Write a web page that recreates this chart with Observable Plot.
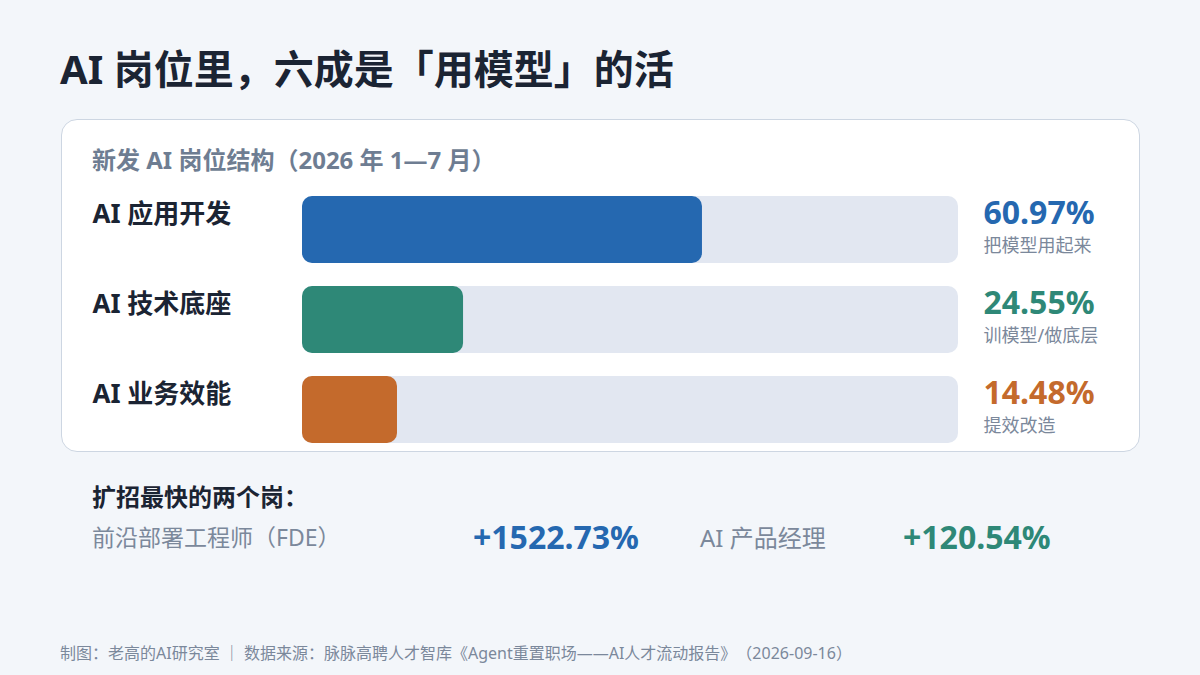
<!DOCTYPE html>
<html>
<head>
<meta charset="utf-8">
<script src="https://cdn.jsdelivr.net/npm/d3@7"></script>
<script src="https://cdn.jsdelivr.net/npm/@observablehq/plot@0.6"></script>
<style>
  html, body { margin: 0; padding: 0; }
  body { width: 1200px; height: 675px; background: #f3f6fa; position: relative; overflow: hidden;
         font-family: "Noto Sans", "Noto Sans CJK SC", sans-serif; text-spacing-trim: space-all; }
  .abs { position: absolute; white-space: nowrap; line-height: 1; }
  #card { position: absolute; left: 61px; top: 119px; width: 1079px; height: 333px; background: #ffffff;
          border: 1.5px solid #cdd6e2; border-radius: 16px; box-sizing: border-box; }
  #chart { position: absolute; left: 0; top: 0; }
</style>
</head>
<body>
<div id="card"></div>
<div id="chart"></div>
<script>
// ---- data ----
const categories = ["AI 应用开发", "AI 技术底座", "AI 业务效能"];
const shares = [60.97, 24.55, 14.48];
const notes = ["把模型用起来", "训模型/做底层", "提效改造"];
const colors = ["#2568b0", "#2e8877", "#c46a2c"];

const fastRoles = ["前沿部署工程师（FDE）", "AI 产品经理"];
const fastGrowth = [1522.73, 120.54];
const fastColors = ["#2568b0", "#2e8877"];

const titleText = "AI 岗位里，六成是「用模型」的活";
const subtitleText = "新发 AI 岗位结构（2026 年 1—7 月）";
const fastHeading = "扩招最快的两个岗：";
const footerText = "制图：老高的AI研究室 ｜ 数据来源：脉脉高聘人才智库《Agent重置职场——AI人才流动报告》（2026-09-16）";

const rows = categories.map((c, i) => ({cat: c, share: shares[i], note: notes[i], full: 100}));

// ---- HTML text ----
function addText(txt, left, top, size, weight, color) {
  const d = document.createElement("div");
  d.className = "abs";
  d.textContent = txt;
  Object.assign(d.style, {left: left + "px", top: top + "px", fontSize: size + "px", fontWeight: weight, color});
  document.body.appendChild(d);
  return d;
}
addText(titleText, 60, 49, 40, 700, "#1b2433");
addText(subtitleText, 92, 148, 24, 700, "#6e7d92");
addText(fastHeading, 92, 485, 24, 700, "#1b2433");
addText(fastRoles[0], 92, 526, 23, 400, "#7b889b");
addText("+" + fastGrowth[0].toFixed(2) + "%", 473, 521, 32, 700, fastColors[0]);
addText(fastRoles[1], 700, 526, 24, 400, "#7b889b");
addText("+" + fastGrowth[1].toFixed(2) + "%", 903, 521, 32, 700, fastColors[1]);
addText(footerText, 60, 645, 16, 400, "#7b889b");

// ---- Plot ----
const chart = Plot.plot({
  width: 1200,
  height: 675,
  marginLeft: 302,
  marginRight: 242,
  marginTop: 196,
  marginBottom: 232,
  style: {background: "transparent", overflow: "visible", fontFamily: "\"Noto Sans\", \"Noto Sans CJK SC\", sans-serif"},
  x: {domain: [0, 100], axis: null},
  y: {domain: categories, paddingInner: 0.256, paddingOuter: 0, axis: null},
  color: {domain: categories, range: colors},
  marks: [
    Plot.barX(rows, {x1: 0, x2: "full", y: "cat", fill: "#e2e7f1", rx: 10}),
    Plot.barX(rows, {x1: 0, x2: "share", y: "cat", fill: "cat", rx: 10}),
    Plot.text(rows, {y: "cat", text: "cat", frameAnchor: "left", dx: -210, dy: -15, textAnchor: "start",
                     fontSize: 26, fontWeight: 700, fill: "#1b2433"}),
    Plot.text(rows, {y: "cat", text: d => d.share.toFixed(2) + "%", frameAnchor: "right", dx: 25, dy: -16,
                     textAnchor: "start", fontSize: 32, fontWeight: 700, fill: "cat"}),
    Plot.text(rows, {y: "cat", text: "note", frameAnchor: "right", dx: 25, dy: 16,
                     textAnchor: "start", fontSize: 18, fill: "#7b889b"})
  ]
});
document.getElementById("chart").appendChild(chart);
</script>
</body>
</html>
